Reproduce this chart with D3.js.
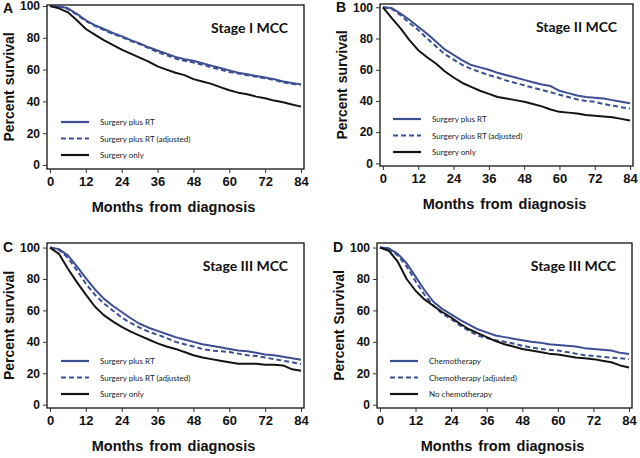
<!DOCTYPE html>
<html>
<head>
<meta charset="utf-8">
<script src="https://cdn.jsdelivr.net/npm/d3@7"></script>
<style>
  body { margin: 0; background: #fff; }
  svg { display: block; }
</style>
</head>
<body>
<svg width="640" height="458"></svg>
<script>
'use strict'

// months at which the survival curves were read
let months = [0, 3, 6, 9, 12, 15, 18, 21, 24, 27, 30, 33, 36, 39, 42, 45, 48, 51, 54, 57, 60, 63, 66, 69, 72, 75, 78, 81, 84];
let xTicks = [0, 12, 24, 36, 48, 60, 72, 84];
let yTicks = [0, 20, 40, 60, 80, 100];

// Panel A - Stage I
let aRT    = [100, 99.8, 98.5, 95, 91, 88, 85.5, 83, 81, 78.5, 76.5, 74, 72, 70, 68, 66.5, 65.5, 64, 62.5, 61, 59.5, 58, 57, 56, 55, 54, 52.5, 51.5, 50.7];
let aAdj   = [100, 99.8, 98, 94.5, 90.5, 87.5, 85, 82.5, 80.5, 78, 76, 73.5, 71, 69, 67, 65.5, 64.5, 63, 61.5, 60, 58.5, 57.5, 56.5, 55.5, 54.5, 53.5, 52, 51, 50.5];
let aOnly  = [100, 98.5, 96, 91, 85.5, 82, 78.5, 75.5, 72.5, 70, 67.5, 65, 62, 60, 58, 56.5, 54, 52.5, 51, 49, 47, 45.5, 44.5, 43, 42, 40.5, 39.5, 38, 36.7];

// Panel B - Stage II
let bRT    = [100, 99.5, 96, 92, 87.5, 83, 78, 73, 69.5, 66, 63, 61.5, 60, 58, 56.5, 55, 53.5, 52, 50.5, 49.5, 46.5, 45, 43.5, 42.5, 42, 41.5, 40.5, 39.5, 38.5];
let bAdj   = [100, 99, 95, 90, 85.5, 80, 75, 70, 66.5, 63, 60.5, 58.5, 56.5, 55, 53, 51.5, 50, 48.5, 47, 45.5, 44, 42.5, 41, 40, 39.5, 38, 37, 36, 35];
let bOnly  = [100, 93, 86.5, 79, 72.5, 68, 64, 59, 55, 51.5, 49, 46.5, 44.5, 42.5, 41.5, 40.5, 39.5, 38, 36.5, 34.5, 33, 32.5, 32, 31, 30.5, 30, 29.5, 28.5, 27.4];

// Panel C - Stage III, radiotherapy
let cRT    = [100, 99, 95, 88, 80.5, 73.5, 67.5, 63, 59, 55, 51.5, 49, 47, 45, 43, 41.5, 40, 38.5, 37.5, 36.5, 35.5, 34.5, 34, 33, 32, 31.5, 30.5, 29.5, 28.6];
let cAdj   = [100, 98.5, 93.5, 85.5, 77, 70, 64.5, 60, 55.5, 52, 49, 46.5, 44.5, 42.5, 40, 38.5, 37, 35.5, 34.5, 34, 33.5, 32.5, 31.5, 31, 30, 29, 28, 27, 25.8];
let cOnly  = [100, 96, 86.5, 78, 70, 62.5, 57, 53, 49.5, 46.5, 44, 41.5, 39, 37, 35.5, 33.5, 31.5, 30, 29, 28, 27, 26, 26, 26, 25.5, 25.5, 25, 22.5, 21.6];

// Panel D - Stage III, chemotherapy
let dChemo = [100, 99.5, 96, 90, 81.5, 73, 65.5, 61, 57.5, 54, 51, 48, 46, 44, 43, 42, 41, 40, 39.5, 38.5, 38, 37.5, 37, 36, 35.5, 35, 34.5, 33, 32.2];
let dAdj   = [100, 99, 95, 88, 78.5, 70, 63, 58, 54.5, 50.5, 47, 44, 42.5, 41, 40, 39, 37.5, 36.5, 35.5, 35, 34.5, 33.5, 32.5, 31.5, 31, 30.5, 30, 29.5, 29];
let dNone  = [100, 98, 91, 80, 72.5, 67, 63, 59, 55.5, 51.5, 48, 45.5, 43, 40.5, 38.5, 37, 35.5, 34.5, 33.5, 32.5, 32, 31, 30, 29.5, 29, 28, 27, 25, 23.7];

let rtLabels = ['Surgery plus RT', 'Surgery plus RT (adjusted)', 'Surgery only'];
let chemoLabels = ['Chemotherapy', 'Chemotherapy (adjusted)', 'No chemotherapy'];

let blue = '#3c4f95',
    black = '#141414';

let styles = [
    { color: blue, dash: null },
    { color: blue, dash: '5,3' },
    { color: black, dash: null }
];

let panels = [
    { letter: 'A', title: 'Stage I MCC', yLabel: 'Percent survival', labels: rtLabels,
      series: [aRT, aAdj, aOnly], left: 47, top: 5, width: 257, height: 164,
      yDomain: [-2.5, 100.6], letterY: 7.5 },
    { letter: 'B', title: 'Stage II MCC', yLabel: 'Percent survival', labels: rtLabels,
      series: [bRT, bAdj, bOnly], left: 380, top: 4, width: 253, height: 162,
      yDomain: [-1.7, 102.1], letterY: 7.7 },
    { letter: 'C', title: 'Stage III MCC', yLabel: 'Percent survival', labels: rtLabels,
      series: [cRT, cAdj, cOnly], left: 47, top: 243, width: 257, height: 165,
      yDomain: [-2.1, 102.9], letterY: 9 },
    { letter: 'D', title: 'Stage III MCC', yLabel: 'Percent Survival', labels: chemoLabels,
      series: [dChemo, dAdj, dNone], left: 377, top: 243, width: 255, height: 165,
      yDomain: [-2.1, 102.9], letterY: 9 }
];

let svg = d3.select('svg');

panels.forEach(function(p) {
    let g = svg.append('g')
        .attr('transform', 'translate(' + p.left + ',' + p.top + ')');

    let x = d3.scaleLinear().domain([-1, 85]).range([0, p.width]);
    let y = d3.scaleLinear().domain(p.yDomain).range([p.height, 0]);

    // frame
    g.append('rect')
        .attr('width', p.width)
        .attr('height', p.height)
        .attr('fill', 'none')
        .attr('stroke', '#111')
        .attr('stroke-width', 1.3);

    let xAxis = g.append('g')
        .attr('transform', 'translate(0,' + p.height + ')')
        .call(d3.axisBottom(x).tickValues(xTicks).tickSize(4).tickPadding(4));
    xAxis.select('.domain').remove();
    xAxis.selectAll('line').attr('stroke', '#333');
    xAxis.selectAll('text')
        .attr('font-family', 'Liberation Sans, Arial, sans-serif')
        .attr('font-weight', 'bold')
        .attr('font-size', 13)
        .attr('fill', '#111');

    let yAxis = g.append('g')
        .call(d3.axisLeft(y).tickValues(yTicks).tickSize(4).tickPadding(3));
    yAxis.select('.domain').remove();
    yAxis.selectAll('line').attr('stroke', '#333');
    yAxis.selectAll('text')
        .attr('font-family', 'Liberation Sans, Arial, sans-serif')
        .attr('font-weight', 'bold')
        .attr('font-size', 12)
        .attr('fill', '#111');

    // axis titles
    g.append('text')
        .attr('x', p.width / 2 - 2)
        .attr('y', p.height + 43)
        .attr('text-anchor', 'middle')
        .attr('font-family', 'Liberation Sans, Arial, sans-serif')
        .attr('font-weight', 'bold')
        .attr('font-size', 14.5)
        .attr('word-spacing', 2)
        .attr('fill', '#111')
        .text('Months from diagnosis');

    g.append('text')
        .attr('transform', 'translate(-33,' + (p.height / 2) + ') rotate(-90)')
        .attr('text-anchor', 'middle')
        .attr('font-family', 'Liberation Sans, Arial, sans-serif')
        .attr('font-weight', 'bold')
        .attr('font-size', 14)
        .attr('word-spacing', 1)
        .attr('fill', '#111')
        .text(p.yLabel);

    // panel letter
    g.append('text')
        .attr('x', -44)
        .attr('y', p.letterY)
        .attr('font-family', 'Liberation Sans, Arial, sans-serif')
        .attr('font-weight', 'bold')
        .attr('font-size', 14)
        .attr('fill', '#111')
        .text(p.letter);

    // stage title
    g.append('text')
        .attr('x', p.width - 16)
        .attr('y', 28)
        .attr('text-anchor', 'end')
        .attr('font-family', 'Lato, sans-serif')
        .attr('font-weight', 'bold')
        .attr('font-size', 14)
        .attr('fill', '#111')
        .text(p.title);

    // curves
    let line = d3.line()
        .x(function(d, i) { return x(months[i]); })
        .y(function(d) { return y(d); });

    p.series.forEach(function(s, i) {
        g.append('path')
            .datum(s)
            .attr('d', line)
            .attr('fill', 'none')
            .attr('stroke', styles[i].color)
            .attr('stroke-width', 2)
            .attr('stroke-dasharray', styles[i].dash)
            .attr('stroke-linejoin', 'round');
    });

    // legend
    let legX = p.left < 100 ? 14 : 13;
    let legend = g.append('g')
        .attr('transform', 'translate(' + legX + ',' + (p.height - 47) + ')');
    p.labels.forEach(function(lbl, i) {
        let row = legend.append('g')
            .attr('transform', 'translate(0,' + (i * 16.5) + ')');
        row.append('line')
            .attr('x1', 0)
            .attr('x2', 28)
            .attr('stroke', styles[i].color)
            .attr('stroke-width', 2.2)
            .attr('stroke-dasharray', styles[i].dash);
        row.append('text')
            .attr('x', 39)
            .attr('y', 3)
            .attr('font-family', 'Lato, sans-serif')
            .attr('font-size', 8)
            .attr('fill', '#222')
            .text(lbl);
    });
});
</script>
</body>
</html>
